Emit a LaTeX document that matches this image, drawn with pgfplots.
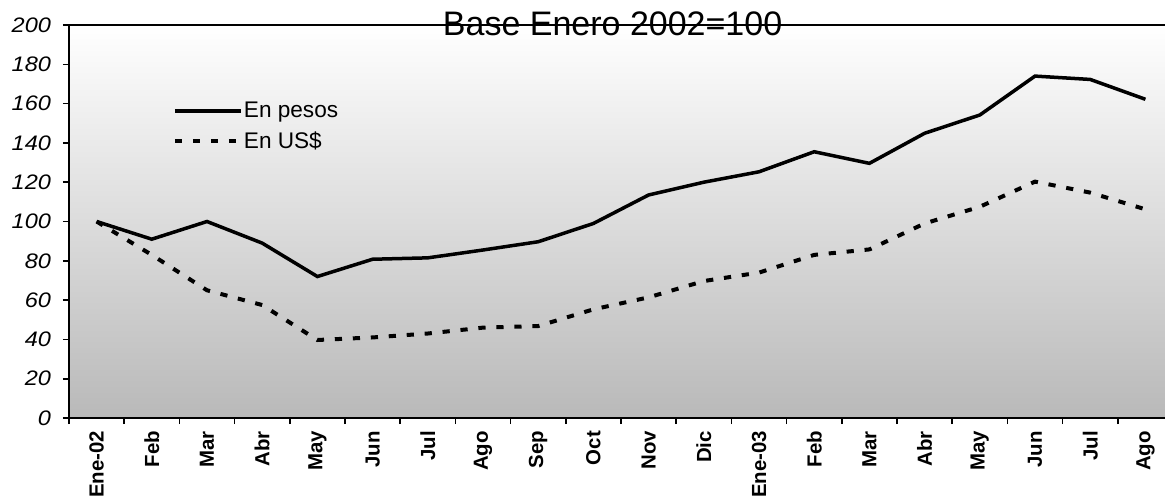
\documentclass[border=0pt]{standalone}
\usepackage{fontspec}
\setmainfont{Liberation Sans}
\newfontfamily\tickfont[FakeStretch=1.12]{Liberation Sans}
\usepackage{pgfplots}
\pgfplotsset{compat=1.18}

% indices 0..19 = Ene-02 .. Ago-03
\pgfplotstableread{
x pesos usd
0  100   100
1  91    83
2  100   65
3  89    57.5
4  72    39.7
5  80.8  41
6  81.5  43
7  85.5  46
8  89.7  46.8
9  99    55.3
10 113.5 61.4
11 120   69.7
12 125.3 74
13 135.5 83
14 129.6 85.8
15 144.9 99
16 154.2 107.5
17 174   120.3
18 172.3 114.7
19 162.2 106.2
}\datatable

\begin{document}
\begin{tikzpicture}
\begin{axis}[
    scale only axis,
    width=548pt, height=196.5pt,
    xmin=-0.5, xmax=19.355,
    ymin=0, ymax=200,
    clip mode=individual,
    axis x line*=bottom, axis y line*=left,
    axis line style={line width=1.2pt},
    axis background/.style={top color=white, bottom color=gray!55},
    tick align=outside,
    major tick length=3pt,
    tick style={line width=0.8pt, black},
    ytick={0,20,...,200},
    yticklabel style={font=\fontsize{10.5}{12}\tickfont\itshape, xshift=-2.5pt,
        /pgf/number format/assume math mode=true},
    xtick={-0.5,0.5,...,18.5},
    xticklabels={},
    extra x ticks={0,...,19},
    extra x tick labels={Ene-02,Feb,Mar,Abr,May,Jun,Jul,Ago,Sep,Oct,Nov,Dic,
        Ene-03,Feb,Mar,Abr,May,Jun,Jul,Ago},
    extra x tick style={tick style={draw=none}},
    x tick label style={rotate=90, anchor=east,
        font=\fontsize{10.2}{11}\selectfont\bfseries},
    legend style={draw=none, fill=none, at={(0.089,0.818)}, anchor=north west,
        font=\fontsize{11.3}{13}\selectfont, row sep=4.5pt,
        nodes={inner sep=0.5pt}},
    legend image code/.code={\draw[#1] (0pt,0pt) -- (33pt,0pt);},
    legend cell align=left,
]
\addplot[black, line width=1.75pt] table[x=x, y=pesos] {\datatable};
\addlegendentry{En pesos}
\addplot[black, line width=2pt, dash pattern=on 3.6pt off 5.4pt] table[x=x, y=usd] {\datatable};
\addlegendentry{En US\$}
\draw[line width=0.6pt] (rel axis cs:0,1) -- (rel axis cs:1,1);
\node[anchor=base, yshift=-5pt, font=\fontsize{17}{19}\selectfont]
    at (rel axis cs:0.496,1) {Base Enero 2002=100};
\end{axis}
\pgfresetboundingbox
\path (-34.5pt,-41pt) rectangle (548pt,209pt);
\end{tikzpicture}
\end{document}
